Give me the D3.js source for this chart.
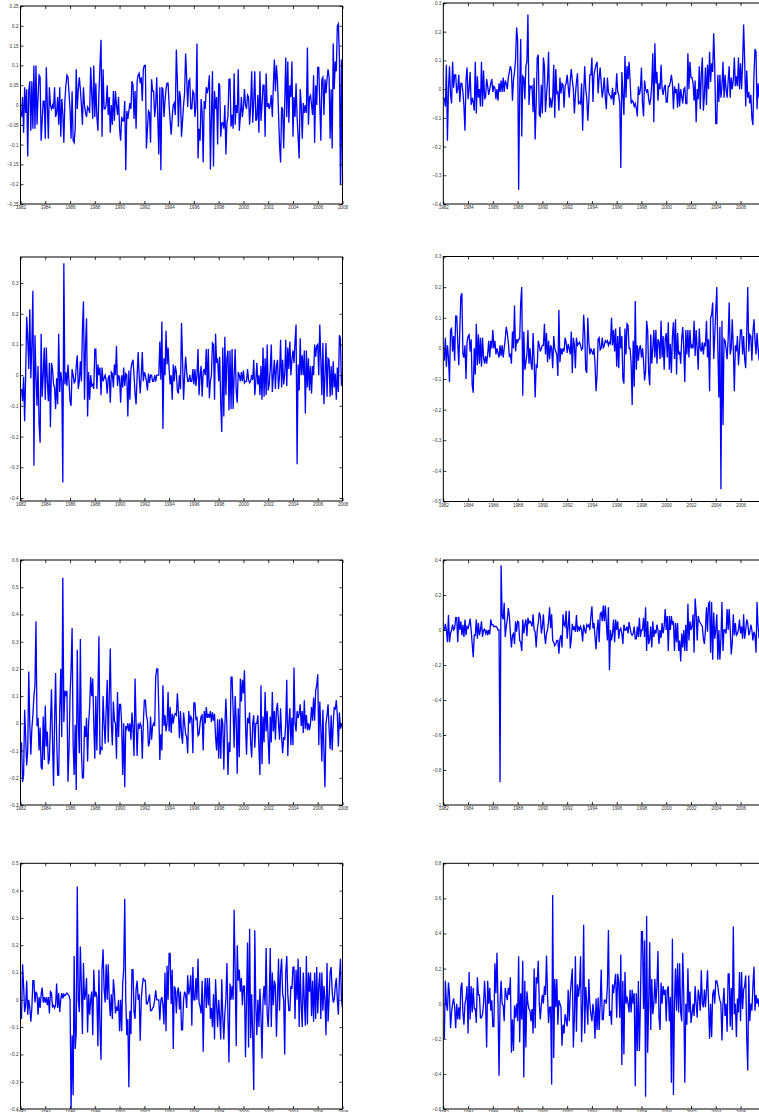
<!DOCTYPE html>
<html>
<head>
<meta charset="utf-8">
<script src="https://cdn.jsdelivr.net/npm/d3@7"></script>
<style>
  body { margin: 0; background: #fff; }
  svg { display: block; }
  .tick text { font-family: "Liberation Sans", Arial, sans-serif; font-size: 4.6px; fill: #333; }
  .tick line { stroke: #000; stroke-width: 0.8; }
</style>
</head>
<body>
<svg id="chart"></svg>
<script>
// monthly returns, Feb 1982 .. Jan 2008 (one row per year)
const series1 = [
  -0.03, 0.02, -0.07, 0.045, -0.02, 0.04, -0.13, 0.035, 0.06, -0.065, 0.06, -0.06,
  0.1, -0.06, 0.1, -0.05, 0.02, 0.075, 0.07, -0.09, -0.04, 0.01, 0.01, -0.085,
  0.095, 0, -0.085, 0.045, 0, -0.01, 0, -0.01, 0.045, -0.03, -0.02, 0.02,
  -0.05, 0.045, -0.08, 0.015, -0.02, -0.095, 0.01, 0.05, 0.075, 0.07, 0.03, -0.01,
  -0.085, 0.035, -0.09, -0.095, -0.06, 0.09, -0.01, 0.04, 0.07, 0.04, 0, -0.05,
  0.045, 0, -0.02, -0.03, -0.005, -0.01, -0.02, 0.095, 0.03, -0.035, 0.1, -0.03,
  0.055, -0.03, -0.065, 0.03, 0.1, 0.165, -0.08, 0.09, -0.01, -0.01, 0, 0.05,
  -0.025, 0.02, -0.07, 0, -0.05, 0.035, -0.04, 0.035, 0, -0.025, 0.02, -0.06,
  -0.09, -0.03, -0.04, -0.04, 0.01, -0.165, -0.015, -0.035, -0.015, 0.005, -0.01, 0.06,
  0.05, -0.035, 0.035, -0.06, 0.06, 0.075, 0.08, 0.055, 0.07, 0.01, 0.09, 0.1,
  0.1, -0.11, -0.06, -0.015, -0.02, -0.095, 0.065, 0.035, 0.035, -0.03, 0, 0.07,
  -0.03, -0.125, 0.045, -0.165, 0.045, 0.04, -0.03, 0.01, 0.04, 0.055, 0.055, 0,
  -0.04, -0.075, -0.03, 0, 0.005, -0.025, 0.14, 0.06, -0.055, 0.035, 0.02, -0.08,
  -0.04, 0, 0.03, 0.13, 0.07, -0.005, 0.06, 0.065, -0.01, -0.01, 0.035, 0.03,
  -0.03, 0, 0.155, -0.135, -0.06, -0.09, 0.015, -0.02, -0.145, 0.01, -0.01, 0.045,
  0.03, 0.045, 0.075, -0.163, -0.03, 0.085, -0.155, 0.035, -0.01, 0.02, -0.1, 0.055,
  0.05, -0.08, -0.045, -0.045, -0.06, 0, -0.125, -0.045, -0.03, 0.065, 0.065, -0.055,
  -0.025, -0.06, 0.08, -0.05, 0, -0.02, 0.09, -0.065, -0.03, 0.02, -0.03, -0.005,
  0.04, 0, -0.01, 0.025, 0.02, -0.05, 0, 0.085, -0.045, 0.01, 0.085, -0.04,
  -0.035, 0.025, -0.07, 0.085, -0.04, 0, 0.05, 0.05, -0.08, 0.08, -0.005, 0.005,
  -0.01, 0, 0.025, -0.03, 0.05, 0.115, 0.035, 0.1, 0.06, -0.02, -0.1, -0.145,
  -0.005, -0.01, -0.11, 0, 0.12, -0.03, 0.11, -0.045, 0.05, 0.02, 0.11, -0.08,
  0.02, -0.03, 0.055, -0.03, -0.08, -0.135, 0.04, 0, -0.085, 0.005, -0.02, 0,
  -0.02, 0.145, -0.05, 0.02, 0.025, 0, -0.025, 0.075, -0.095, 0.05, 0, 0.095,
  0.095, 0, -0.09, 0.065, 0.07, -0.025, 0.065, 0.03, 0.065, 0.09, 0.07, -0.085,
  0.04, -0.11, 0.155, 0.04, 0.11, 0.085, 0.2, 0.205, 0.12, -0.2, 0.115, -0.2
];
const series2 = [
  -0.03, -0.06, 0.085, -0.18, 0, 0.08, -0.02, -0.05, 0.095, 0.005, 0.05, 0.05,
  -0.015, 0, 0.05, -0.045, 0.02, 0.02, -0.01, -0.06, -0.145, 0.03, 0.075, -0.035,
  0, 0.06, -0.055, -0.03, -0.045, -0.075, 0.095, -0.085, 0.045, -0.03, 0, -0.06,
  0.095, -0.06, 0.065, -0.035, -0.025, 0.035, 0.01, -0.02, 0, 0.02, 0.035, -0.01,
  0.01, 0.005, -0.035, 0, -0.04, 0.02, -0.01, 0.03, -0.01, 0.04, -0.01, 0.03,
  0.02, 0, 0.04, 0.06, 0.08, 0.065, -0.04, 0.03, 0.06, 0.1, 0.215, 0.17,
  -0.35, 0, 0.175, -0.165, 0.045, 0.04, -0.035, 0.08, 0.095, 0.26, -0.055, 0.01,
  0.005, 0.01, -0.08, 0.04, -0.175, -0.05, 0.11, 0.12, -0.09, -0.095, 0.015, -0.085,
  0.11, 0.08, -0.08, -0.02, 0.03, 0.13, -0.065, -0.03, -0.065, -0.03, 0.085, -0.1,
  0.07, -0.015, -0.01, -0.075, 0.04, -0.015, 0.02, 0.015, -0.065, 0.01, 0.02, 0.05,
  0.01, -0.03, 0.03, 0.07, 0.03, 0, -0.085, -0.02, 0.025, 0.055, -0.05, -0.045,
  -0.05, 0.02, -0.145, -0.02, 0.08, 0, -0.03, -0.11, -0.04, 0.05, 0.05, 0.11,
  -0.045, 0.05, 0.07, 0.085, 0.095, -0.015, 0.04, 0.075, 0.02, -0.03, 0, 0.04,
  -0.03, -0.07, 0.04, -0.01, -0.02, -0.025, -0.035, 0.005, -0.055, -0.01, -0.02, 0.055,
  -0.01, -0.02, -0.05, -0.275, 0.06, -0.02, -0.09, 0.115, -0.03, 0.08, 0.035, 0.095,
  0.03, -0.05, -0.04, -0.045, -0.06, -0.05, -0.065, -0.095, 0.01, -0.02, 0, 0.075,
  -0.05, -0.095, 0.03, 0, -0.01, 0, -0.035, -0.055, -0.035, 0.02, 0.125, -0.115,
  0.16, 0.02, 0.06, -0.04, 0.02, 0, 0.085, 0, -0.02, 0.005, 0.015, -0.045,
  -0.045, 0.01, 0.01, 0.025, 0.05, 0.02, -0.07, 0.01, -0.01, 0, -0.065, 0.02,
  -0.06, 0, -0.025, -0.05, 0, 0.005, -0.05, -0.05, 0.125, 0, 0.095, 0.04,
  0.04, 0.02, -0.04, 0.03, -0.115, 0, -0.035, 0.08, -0.07, 0.05, 0.11, -0.075,
  -0.02, 0.075, -0.055, 0.085, 0, 0.13, 0.025, 0.09, 0.06, 0.195, 0.08, -0.12,
  -0.12, 0.05, -0.045, 0.05, -0.03, 0.01, 0.095, -0.03, 0.05, 0, -0.03, 0.03,
  0.08, -0.03, 0.04, 0, 0.03, 0.11, 0.01, 0.045, 0.01, 0.11, 0, 0.09,
  0, 0.09, 0.225, 0.1, -0.06, 0.065, -0.03, -0.01, -0.05, -0.02, -0.1, -0.125,
  0.05, 0.14, 0.13, -0.07, 0.02, -0.03, 0.04, 0.01, -0.05, 0.06, 0, 0.03
];
const series3 = [
  -0.045, -0.085, -0.005, -0.15, 0, 0.19, 0.12, 0.02, 0.215, -0.01, 0.1, 0.275,
  -0.295, 0.13, 0, -0.1, 0.03, -0.16, -0.22, 0.135, -0.07, 0, 0.09, -0.08,
  0.09, -0.02, -0.085, 0.04, -0.17, 0.04, 0.02, -0.03, -0.04, -0.11, -0.01, -0.095,
  0.135, -0.055, 0.01, -0.02, -0.35, 0.365, -0.03, 0.01, -0.035, 0.035, -0.02, -0.085,
  -0.1, 0.02, 0, -0.025, -0.02, 0.03, 0.065, -0.045, -0.02, 0.045, -0.02, 0.15,
  0.24, -0.08, 0.1, 0.185, -0.135, 0.01, -0.08, 0, -0.035, -0.03, -0.045, 0.085,
  0.085, -0.045, 0.035, 0, 0.025, -0.065, 0.025, -0.02, -0.01, 0, -0.015, -0.06,
  -0.01, 0, -0.09, 0.01, 0.005, -0.04, 0.035, 0, 0.095, -0.035, 0, -0.01,
  -0.09, 0, -0.04, 0.025, -0.035, 0.005, 0, -0.135, 0.015, -0.08, 0.02, 0.04,
  0.05, 0, -0.06, -0.095, 0, 0.075, -0.005, -0.06, 0, 0.075, -0.02, 0.01,
  0, -0.02, -0.05, 0.005, -0.025, 0, 0, -0.02, -0.02, 0, -0.02, 0,
  0, 0, 0.11, -0.015, 0.175, -0.175, 0.055, 0, 0.145, 0.035, 0.09, 0.02,
  -0.03, 0, -0.08, 0.035, -0.02, 0.03, 0.01, -0.05, -0.06, 0, -0.045, 0.17,
  0.05, -0.08, 0, 0.06, 0.01, -0.02, -0.02, 0, -0.02, -0.02, 0.02, -0.03,
  0.02, -0.035, 0, 0.085, -0.065, 0, 0.03, -0.07, 0.01, 0.02, 0, 0.085,
  -0.04, 0.085, -0.075, -0.02, 0, 0.105, 0.1, -0.08, 0.135, 0.04, 0.055, -0.02,
  0.06, -0.09, -0.185, 0.09, -0.135, 0.125, -0.065, 0.055, 0.08, -0.115, 0.08, -0.11,
  0.085, -0.11, 0, 0.085, -0.05, -0.09, 0.01, 0, -0.02, 0.01, -0.02, 0.015,
  -0.025, -0.02, -0.02, 0.02, -0.015, -0.025, -0.02, 0, -0.015, 0.05, -0.065, -0.02,
  0.04, -0.03, 0, -0.065, 0.03, -0.08, 0.09, -0.07, 0.055, -0.065, 0.1, -0.05,
  -0.03, 0.02, 0.1, -0.055, 0, 0.05, -0.045, 0.03, 0.05, -0.045, 0, 0.115,
  -0.04, 0.05, -0.03, 0, 0.115, -0.035, 0.09, 0.02, 0.11, 0, 0.05, 0.08,
  0.04, 0.11, 0.165, -0.29, 0.035, -0.05, 0.12, 0, 0.065, 0, 0.08, -0.125,
  0.08, -0.04, 0.055, -0.05, 0.03, -0.06, 0.03, 0, 0.1, 0.06, 0.095, 0.1,
  0, 0.165, 0.05, -0.065, 0.105, -0.095, 0, 0.105, -0.07, 0.055, 0.05, -0.07,
  0.03, -0.065, 0.045, -0.04, 0.005, -0.08, 0.025, -0.055, 0.13, 0.12, -0.035, 0
];
const series4 = [
  -0.04, 0.035, -0.06, 0.01, -0.03, -0.11, 0.06, 0.065, -0.01, 0.04, -0.04, 0.105,
  0.105, 0.02, -0.055, 0.06, 0.17, 0.18, -0.02, -0.03, 0.01, -0.1, 0.02, 0.04,
  0.045, -0.01, 0.03, -0.12, -0.145, 0, -0.085, 0.08, -0.055, 0.045, -0.05, 0.035,
  -0.06, 0.035, -0.03, -0.05, -0.025, -0.05, -0.02, 0.025, -0.03, 0.025, 0, 0.06,
  0, 0.025, -0.02, 0, -0.015, -0.03, 0.01, -0.025, 0.01, -0.03, 0, 0.03,
  0.07, 0.05, 0.02, -0.025, -0.02, -0.05, 0.055, 0, 0.14, -0.01, 0.03, 0.02,
  0.03, 0.03, 0.15, 0.2, -0.155, 0.055, -0.07, -0.045, -0.02, 0.06, -0.05, 0,
  -0.05, -0.07, 0.05, -0.04, -0.16, -0.055, -0.06, 0.025, 0.01, -0.01, 0, 0.01,
  0.01, 0.08, -0.02, 0.05, -0.045, 0.025, -0.035, 0.01, 0, -0.065, 0.04, 0,
  -0.01, -0.02, -0.09, 0.125, -0.045, 0, -0.02, 0, -0.01, 0.035, 0.02, -0.015,
  0.015, 0, -0.02, 0.055, -0.08, 0.035, 0.01, -0.065, 0.035, 0.01, 0.015, 0.02,
  0.01, -0.005, 0, 0.11, 0.05, -0.07, -0.08, 0.1, 0.02, -0.02, 0, -0.01,
  -0.02, 0, -0.05, -0.14, -0.085, 0.03, 0.035, -0.005, 0, 0.035, 0, 0.01,
  0.025, 0.02, 0.025, 0.01, 0.02, 0.015, 0.1, 0.01, 0.06, -0.01, 0.065, -0.06,
  0.04, -0.065, 0.07, 0, 0.04, -0.1, -0.115, 0.065, -0.02, 0.08, 0.075, 0,
  0, -0.05, -0.185, 0.025, -0.125, 0.155, -0.07, 0.01, -0.04, 0, 0.01, -0.03,
  0, -0.04, -0.105, -0.075, 0.09, 0.06, -0.08, -0.12, 0.045, -0.05, 0, 0.06,
  -0.03, 0.06, -0.05, 0.03, 0.02, -0.035, 0.09, -0.03, 0.04, -0.07, 0.03, 0.05,
  -0.03, 0.085, -0.07, 0.015, -0.08, 0.04, 0.085, -0.035, 0.095, -0.085, 0.05, -0.02,
  -0.01, -0.05, 0.03, 0.07, 0, -0.11, 0.06, -0.02, 0.06, -0.03, 0.06, 0,
  0.01, 0, 0.09, -0.025, 0.06, 0, -0.07, 0.065, 0, -0.01, 0.02, -0.02,
  0.015, 0.01, 0.09, -0.03, 0.03, -0.14, 0.1, 0.11, 0.15, -0.035, 0.04, 0.12,
  0.2, 0, -0.16, 0.07, -0.46, 0.09, -0.25, 0.03, 0.025, 0, -0.035, 0.03,
  0.15, -0.02, 0, 0.095, 0, -0.14, 0.01, -0.01, 0.04, -0.055, 0, 0.06,
  0.06, -0.02, 0.04, -0.035, -0.065, 0.05, 0.2, -0.01, 0.045, 0.04, -0.04, 0.05,
  0.095, 0.03, -0.02, 0.05, 0, -0.04, 0.06, 0.02, -0.05, 0.03, 0.01, -0.02
];
const series5 = [
  -0.07, -0.215, -0.19, 0.05, -0.05, -0.155, -0.1, 0.19, 0, -0.115, -0.02, 0.03,
  0.1, 0.14, 0.375, -0.01, 0.02, -0.1, -0.015, -0.16, -0.17, 0.025, -0.135, 0.065,
  -0.085, -0.03, -0.15, -0.13, -0.005, 0.125, -0.06, -0.23, 0, 0.185, -0.05, -0.19,
  -0.19, 0.05, 0.2, -0.05, 0.535, 0.005, 0.12, 0.1, 0.12, -0.215, -0.1, 0.1,
  0.2, 0.35, -0.08, -0.19, -0.005, -0.245, 0.27, 0, -0.11, 0.31, -0.1, -0.2,
  -0.2, -0.01, -0.05, 0.02, -0.14, 0, 0.06, 0.17, 0.1, 0.165, 0, -0.13,
  0.1, -0.1, 0.1, 0.32, -0.115, -0.09, -0.095, 0.1, 0, -0.075, 0.05, 0.16,
  -0.07, 0.1, 0.275, 0, -0.08, 0.08, 0.01, 0, -0.13, 0.115, -0.05, 0.07,
  0.07, 0, -0.19, 0, -0.235, -0.01, -0.02, 0, -0.03, 0, -0.06, 0.04,
  -0.02, -0.12, 0.165, 0, -0.12, 0, -0.02, 0, -0.01, -0.13, 0, 0.085,
  0.085, 0.03, 0.01, -0.085, -0.07, 0.025, -0.06, -0.01, 0, -0.01, 0.17, 0.2,
  0.2, 0.05, -0.135, -0.04, -0.1, 0.14, -0.01, 0.03, -0.03, 0, 0.115, -0.03,
  0.06, -0.035, 0.035, 0, 0.03, 0.035, 0.03, 0.11, 0.04, -0.055, 0.045, -0.04,
  -0.075, 0.04, 0, -0.04, -0.05, -0.11, 0.045, 0, 0.025, 0.015, -0.11, 0.075,
  0.075, 0.015, 0.02, -0.045, -0.04, 0, 0.025, 0.03, -0.1, 0.045, 0, 0.06,
  0.02, 0.035, 0.02, 0.045, 0.005, 0.04, 0.01, 0.035, -0.05, -0.1, 0.015, -0.13,
  0.015, -0.13, 0.02, 0, -0.17, -0.01, 0.09, -0.01, -0.19, -0.07, -0.105, 0.17,
  0.17, 0.05, -0.09, 0.1, 0.01, -0.185, 0.055, -0.125, 0.165, 0.08, 0.16, 0.11,
  0.195, 0, -0.115, 0.02, 0, 0.04, -0.07, -0.125, 0, 0.03, -0.09, 0,
  0, 0.03, -0.09, -0.19, 0.14, -0.15, 0.025, -0.07, 0.115, -0.03, 0.045, -0.06,
  -0.15, 0.025, -0.07, 0.115, -0.03, 0.045, -0.06, 0.05, 0.075, 0, -0.06, 0.055,
  -0.05, -0.11, -0.05, -0.06, 0, 0.16, -0.12, 0, 0.055, -0.08, 0.02, -0.08,
  0.205, 0, -0.03, 0.045, 0.02, 0.035, 0.07, -0.01, 0.045, -0.035, 0.085, -0.02,
  0.03, -0.025, 0, -0.025, 0, 0.06, 0.01, 0.095, 0.01, 0.12, 0.14, 0.18,
  -0.08, 0.08, -0.02, -0.14, 0.05, -0.1, -0.235, 0, 0.03, 0.07, -0.02, -0.095,
  0.03, -0.1, 0, 0.06, 0.05, 0.085, 0.03, -0.085, 0.04, -0.02, 0, -0.015
];
const series6 = [
  -0.005, 0.035, 0, -0.07, 0.085, -0.07, -0.02, 0, 0.03, 0, 0.01, 0.07,
  0.07, -0.07, 0.075, 0, 0.05, -0.03, 0.03, -0.04, 0.06, -0.03, 0.02, 0.01,
  0.03, 0.065, 0, -0.08, -0.155, -0.03, -0.03, 0.06, -0.05, 0.04, -0.03, 0,
  0.05, -0.04, 0, 0.005, -0.02, 0, -0.03, 0, -0.025, 0.06, 0.03, 0.03,
  0.02, 0.02, 0.02, 0.015, 0, 0, -0.87, 0.37, 0.08, 0.06, 0.155, -0.04,
  0.02, 0.06, 0.125, 0.08, -0.02, -0.1, -0.03, -0.02, -0.08, 0.05, -0.01, 0.05,
  0.045, -0.06, -0.07, -0.12, 0.06, -0.02, 0.03, 0.06, -0.035, 0.07, 0.04, 0.05,
  0.04, 0.02, 0.09, 0, -0.01, -0.1, 0, 0.04, 0.1, 0.08, -0.02, 0.02,
  0.09, -0.02, -0.08, -0.02, 0, 0.05, 0.13, 0.01, 0.09, -0.06, -0.07, -0.09,
  -0.08, -0.06, -0.06, -0.135, -0.05, -0.03, -0.1, 0.09, 0.03, 0.02, 0.11, -0.05,
  0.02, 0.11, -0.105, -0.05, 0.035, 0, 0.02, -0.01, 0.085, -0.01, 0.02, 0,
  0.02, 0, -0.065, 0.03, 0, -0.02, 0.03, 0.02, 0.03, 0, 0.08, 0.135,
  0.01, 0.04, -0.04, -0.11, 0, 0.06, -0.07, 0.09, 0.1, 0.05, 0.14, 0.05,
  0.14, 0.04, -0.06, 0.13, -0.23, 0, -0.06, -0.02, 0.06, -0.07, 0.06, 0,
  0.05, -0.05, 0, 0.01, -0.02, -0.08, 0.03, 0, 0, 0.02, -0.02, 0.045,
  0.01, -0.02, -0.03, -0.02, 0.02, -0.05, -0.05, 0.02, -0.04, 0.07, -0.04, 0,
  0, 0.07, -0.04, 0.13, -0.12, 0.05, -0.08, -0.055, 0.02, -0.1, 0.05, -0.04,
  0, -0.02, 0.03, 0, -0.08, 0, -0.045, 0.04, -0.02, 0.02, 0.12, 0,
  0.08, -0.12, 0.08, 0, 0.08, 0.03, 0.05, -0.12, 0.04, -0.07, 0.04, -0.12,
  -0.06, -0.18, -0.02, -0.1, 0, -0.12, 0.03, -0.12, 0.15, -0.06, 0.05, 0,
  0.02, 0.09, -0.13, 0.18, 0.1, -0.06, 0.08, 0.05, 0.04, 0.03, 0.02, -0.05,
  -0.08, 0, 0.13, -0.01, 0.15, 0.16, -0.13, 0.16, -0.17, 0.1, -0.05, 0,
  0.09, -0.17, 0, -0.17, -0.05, 0.16, -0.12, 0, 0, -0.02, 0.12, 0,
  0.12, 0, -0.14, -0.07, 0.09, -0.03, 0.04, -0.03, -0.02, 0, 0.06, -0.02,
  0.02, -0.05, 0.09, -0.05, 0, 0.06, 0.04, -0.03, -0.01, 0.03, 0, -0.06,
  -0.01, -0.03, -0.13, 0.16, 0.02, -0.05, 0.01, 0.02, 0, -0.02, 0.04, 0
];
const series7 = [
  -0.07, 0.13, 0.05, -0.045, -0.02, 0.07, -0.055, 0, -0.03, -0.08, -0.03, 0.07,
  0.07, -0.01, 0.03, 0.02, -0.055, 0.01, -0.03, 0.02, 0.045, -0.01, 0.01, -0.01,
  0.01, -0.02, 0.01, -0.05, 0.03, 0.025, -0.025, -0.02, -0.03, -0.02, 0.06, -0.03,
  0.025, -0.045, 0, 0.025, 0.005, 0.02, 0.015, 0.02, 0.025, 0.02, 0.015, 0,
  -0.4, -0.13, -0.35, 0.16, -0.18, -0.12, 0.415, 0, -0.045, 0.195, 0.05, -0.125,
  0.135, 0, 0.02, 0.08, -0.12, 0.02, -0.055, 0, 0.03, -0.13, 0.11, 0.01,
  0.03, 0.01, -0.17, 0.11, -0.1, -0.22, 0.11, 0.185, 0.04, -0.01, 0.13, 0,
  0.13, 0, -0.06, 0.02, -0.07, 0.075, 0.03, -0.05, -0.03, -0.04, 0, -0.115,
  0, -0.115, 0.06, 0.11, 0.37, 0, -0.13, -0.07, -0.32, -0.04, -0.125, 0.11,
  0.11, -0.045, -0.07, 0.04, 0.07, 0, 0.02, -0.15, 0, 0.05, 0.08, 0.07,
  0.07, -0.015, -0.015, 0, 0.02, -0.04, -0.04, -0.03, -0.025, 0, 0.035, 0,
  0, 0, -0.075, 0, 0.01, -0.02, -0.09, 0.1, -0.115, 0.125, 0, 0.17,
  0.17, -0.015, 0.11, -0.18, 0.05, 0.04, -0.05, 0.03, 0.045, -0.035, 0.03, -0.11,
  -0.11, 0, 0.03, 0.02, -0.03, 0.09, 0.02, 0.04, 0.09, -0.095, 0.12, 0,
  0, 0.08, 0, 0.15, -0.01, -0.025, -0.05, 0.07, -0.19, 0, 0.08, -0.03,
  0.08, -0.02, 0.08, -0.07, -0.03, -0.1, 0.02, -0.145, 0.075, -0.02, -0.1, 0,
  -0.06, -0.145, 0.075, -0.06, -0.145, -0.05, 0, 0.135, -0.06, -0.23, 0.06, 0,
  0.05, 0, 0.33, 0.1, -0.17, 0.2, 0.07, 0.11, 0.03, 0.08, -0.02, 0.05,
  0.05, -0.21, 0, 0.21, -0.175, 0.26, -0.14, 0.02, -0.14, -0.33, 0.255, -0.02,
  -0.13, 0, -0.1, 0.04, -0.06, -0.215, 0, 0.05, -0.02, 0.19, -0.05, -0.1,
  0, 0.19, -0.1, 0.1, -0.02, 0.07, 0.05, -0.135, 0, 0.15, -0.04, 0.1,
  0.15, 0.02, 0, -0.2, 0.1, 0.16, 0.02, -0.04, -0.04, 0.05, 0.04, 0.12,
  0.12, -0.07, 0.11, 0, 0.15, -0.1, 0.12, -0.02, -0.1, 0.1, 0, -0.095,
  0.16, -0.09, 0.1, 0.03, 0.1, -0.06, 0.07, -0.08, 0.1, -0.07, 0.12, -0.05,
  0.05, 0.1, -0.07, 0.1, -0.04, 0.05, 0, -0.13, 0.135, -0.08, 0, 0.1,
  0.12, 0.03, -0.01, 0, 0.05, 0.08, 0, -0.055, 0.08, 0.15, 0, -0.03
];
const series8 = [
  -0.2, 0.13, 0, -0.04, 0.12, 0.05, -0.14, -0.05, 0, 0.03, -0.02, -0.14,
  0, -0.09, -0.02, -0.09, 0.09, 0.12, -0.05, -0.12, 0, 0.03, 0.1, -0.17,
  0.18, -0.09, 0.1, -0.05, 0.09, -0.03, -0.03, -0.11, 0.15, 0.05, 0.05, -0.08,
  -0.08, -0.06, 0, 0.13, 0, -0.25, 0.13, 0, 0.09, -0.04, 0.02, -0.13,
  -0.13, 0.23, 0.06, 0.29, 0, -0.41, 0, 0.13, 0, -0.01, -0.1, 0.09,
  0.05, 0.02, 0.09, 0.05, 0.15, -0.28, -0.09, -0.27, -0.01, -0.08, 0, -0.1,
  0.27, -0.22, 0.06, -0.09, 0.245, -0.42, 0.13, -0.25, 0.07, 0, -0.03, -0.04,
  -0.1, -0.03, -0.17, 0.2, -0.14, 0.15, 0.115, 0.245, 0, -0.09, 0, 0.05,
  0, 0.1, 0.05, 0.275, 0.05, -0.11, -0.02, -0.02, -0.46, 0.62, -0.31, 0.14,
  -0.02, 0.14, -0.12, 0.02, 0, -0.02, -0.24, -0.12, -0.17, -0.06, -0.09, -0.13,
  0.08, -0.1, 0.05, 0.13, 0.2, -0.25, -0.08, 0.27, -0.16, 0.11, 0.04, 0.1,
  0.27, -0.22, 0, 0.45, -0.17, 0.095, 0, -0.12, 0.14, 0, -0.06, -0.1,
  0, -0.06, -0.2, 0.03, -0.15, 0.035, -0.15, 0, 0.195, -0.09, -0.09, 0.02,
  0.02, 0, 0.1, 0.42, -0.07, -0.04, -0.12, 0.11, 0.06, 0.12, 0.17, -0.08,
  0.17, 0.12, -0.08, 0.28, -0.35, 0.13, -0.29, 0.18, 0, 0.04, 0, -0.05,
  0.08, -0.05, 0.08, 0, 0.06, -0.47, 0.06, -0.27, 0.13, -0.27, 0, 0.41,
  0.41, -0.03, 0.36, -0.53, 0.5, -0.28, 0, 0.35, -0.15, 0.14, -0.06, 0,
  0.14, 0, 0.1, 0.3, -0.08, -0.15, 0.12, 0, 0.1, 0.05, 0.08, -0.1,
  0.08, 0.1, -0.1, 0.04, -0.45, 0.37, -0.52, 0, 0.2, -0.04, 0.23, -0.05,
  0.23, -0.05, -0.1, 0.29, 0.05, -0.45, 0, -0.12, 0.2, -0.05, 0.07, -0.11,
  -0.06, 0, -0.07, 0.1, 0, -0.08, 0.08, 0.04, -0.04, 0.19, 0, -0.02,
  0.08, -0.02, 0.08, 0.19, 0, -0.2, 0, -0.19, 0.05, 0.08, 0, 0.13,
  0.13, 0.1, 0.05, 0.02, 0, -0.21, 0, 0.09, -0.07, 0, -0.16, 0.17,
  0.17, -0.13, 0.09, -0.15, 0.44, -0.06, 0, -0.19, 0.03, -0.05, 0.18, -0.1,
  0.18, -0.03, 0.08, 0.1, 0.16, -0.19, -0.38, 0.16, -0.1, 0, -0.04, 0.1,
  0.21, -0.04, 0.05, 0, 0.03, -0.02, 0.06, 0, -0.05, 0.04, 0.02, -0.01
];

const xTicks = [1982, 1984, 1986, 1988, 1990, 1992, 1994, 1996, 1998, 2000, 2002, 2004, 2006, 2008];
const yTicks1 = [-0.25, -0.2, -0.15, -0.1, -0.05, 0, 0.05, 0.1, 0.15, 0.2, 0.25];
const yTicks2 = [-0.4, -0.3, -0.2, -0.1, 0, 0.1, 0.2, 0.3];
const yTicks3 = [-0.4, -0.3, -0.2, -0.1, 0, 0.1, 0.2, 0.3];
const yTicks4 = [-0.5, -0.4, -0.3, -0.2, -0.1, 0, 0.1, 0.2, 0.3];
const yTicks5 = [-0.3, -0.2, -0.1, 0, 0.1, 0.2, 0.3, 0.4, 0.5, 0.6];
const yTicks6 = [-1, -0.8, -0.6, -0.4, -0.2, 0, 0.2, 0.4];
const yTicks7 = [-0.4, -0.3, -0.2, -0.1, 0, 0.1, 0.2, 0.3, 0.4, 0.5];
const yTicks8 = [-0.6, -0.4, -0.2, 0, 0.2, 0.4, 0.6, 0.8];

const startYear = 1982;
const pageWidth = 759;

class SeriesPanel {
  constructor(_config, _data) {
    this.config = {
      parent: _config.parent,
      left: _config.left,
      top: _config.top,
      width: _config.width,
      height: _config.height,
      yDomain: _config.yDomain,
      yTicks: _config.yTicks,
      tickLength: 3
    };
    this.data = _data;
    this.initVis();
  }

  initVis() {
    let vis = this;
    let c = vis.config;

    vis.chart = c.parent.append('g')
      .attr('transform', `translate(${c.left},${c.top})`);

    vis.xScale = d3.scaleLinear()
      .domain([xTicks[0], xTicks[xTicks.length - 1]])
      .range([0, c.width]);

    vis.yScale = d3.scaleLinear()
      .domain(c.yDomain)
      .range([c.height, 0]);

    let fmt = d => d3.format('~g')(+d.toFixed(2));

    vis.xAxis = d3.axisBottom(vis.xScale)
      .tickValues(xTicks).tickFormat(d3.format('d'))
      .tickSize(-c.tickLength).tickPadding(2);
    vis.yAxis = d3.axisLeft(vis.yScale)
      .tickValues(c.yTicks).tickFormat(fmt)
      .tickSize(-c.tickLength).tickPadding(2);
    vis.xAxisTop = d3.axisTop(vis.xScale)
      .tickValues(xTicks).tickFormat('').tickSize(-c.tickLength);
    vis.yAxisRight = d3.axisRight(vis.yScale)
      .tickValues(c.yTicks).tickFormat('').tickSize(-c.tickLength);

    vis.renderVis();
  }

  renderVis() {
    let vis = this;
    let c = vis.config;

    vis.line = d3.line()
      .x((d, i) => vis.xScale(startYear + (i + 1) / 12))
      .y(d => vis.yScale(d));

    vis.chart.append('path')
      .datum(vis.data)
      .attr('fill', 'none')
      .attr('stroke', '#0000ff')
      .attr('stroke-width', 1.3)
      .attr('stroke-linejoin', 'miter')
      .attr('d', vis.line);

    let xg = vis.chart.append('g').attr('transform', `translate(0,${c.height})`).call(vis.xAxis);
    // labels that fall past the page edge are not drawn in the original figure either
    xg.selectAll('.tick text')
      .filter(d => c.left + vis.xScale(d) + 6 > pageWidth)
      .remove();
    vis.chart.append('g').call(vis.yAxis);
    vis.chart.append('g').call(vis.xAxisTop);
    vis.chart.append('g').attr('transform', `translate(${c.width},0)`).call(vis.yAxisRight);
    vis.chart.selectAll('.domain').remove();

    vis.chart.append('rect')
      .attr('width', c.width)
      .attr('height', c.height)
      .attr('fill', 'none')
      .attr('stroke', '#000')
      .attr('stroke-width', 1);
  }
}

const svg = d3.select('#chart')
  .attr('width', pageWidth)
  .attr('height', 1112);

const colLeft = [20.5, 443.3];
const panelWidth = 322;

new SeriesPanel({parent: svg, left: colLeft[0], top: 6, width: panelWidth, height: 198, yDomain: [-0.25, 0.25], yTicks: yTicks1}, series1);
new SeriesPanel({parent: svg, left: colLeft[1], top: 3, width: panelWidth, height: 201, yDomain: [-0.4, 0.3], yTicks: yTicks2}, series2);
new SeriesPanel({parent: svg, left: colLeft[0], top: 257, width: panelWidth, height: 244, yDomain: [-0.41, 0.385], yTicks: yTicks3}, series3);
new SeriesPanel({parent: svg, left: colLeft[1], top: 256.5, width: panelWidth, height: 245, yDomain: [-0.5, 0.3], yTicks: yTicks4}, series4);
new SeriesPanel({parent: svg, left: colLeft[0], top: 560, width: panelWidth, height: 245, yDomain: [-0.3, 0.6], yTicks: yTicks5}, series5);
new SeriesPanel({parent: svg, left: colLeft[1], top: 560, width: panelWidth, height: 245, yDomain: [-1, 0.4], yTicks: yTicks6}, series6);
new SeriesPanel({parent: svg, left: colLeft[0], top: 863.3, width: panelWidth, height: 245.7, yDomain: [-0.4, 0.5], yTicks: yTicks7}, series7);
new SeriesPanel({parent: svg, left: colLeft[1], top: 863.3, width: panelWidth, height: 245.7, yDomain: [-0.6, 0.8], yTicks: yTicks8}, series8);
</script>
</body>
</html>
